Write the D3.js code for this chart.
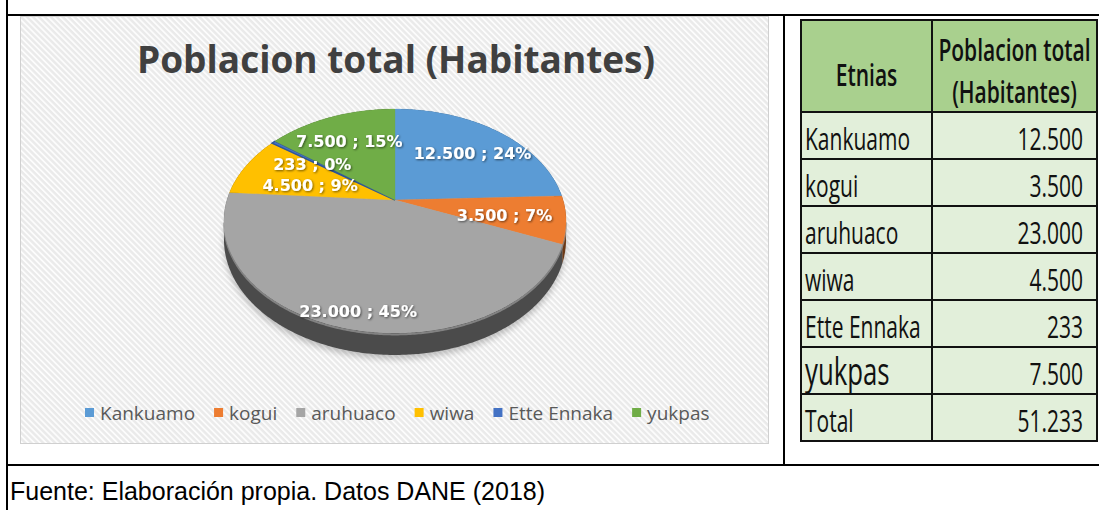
<!DOCTYPE html>
<html>
<head>
<meta charset="utf-8">
<script src="https://cdn.jsdelivr.net/npm/d3@7"></script>
<style>
  body { margin: 0; background: #fff; }
  svg { display: block; }
</style>
</head>
<body>
<svg id="fig" width="1099" height="510"></svg>
<script>
// datos
var etnias = ["Kankuamo", "kogui", "aruhuaco", "wiwa", "Ette Ennaka", "yukpas"];
var habitantes = [12500, 3500, 23000, 4500, 233, 7500];
var titulo = "Poblacion total (Habitantes)";
var encabezados = ["Etnias", "Poblacion total", "(Habitantes)"];
var filaTotal = "Total";
var fuente = "Fuente: Elaboración propia. Datos DANE (2018)";

var colores = ["#5b9bd5", "#ed7d31", "#a5a5a5", "#ffc000", "#4472c4", "#70ad47"];

var es = d3.formatLocale({ decimal: ",", thousands: ".", grouping: [3], currency: ["$", ""] });
var fmtNum = es.format(",d"),
    fmtPct = d3.format(".0%");

var total = d3.sum(habitantes);
var color = d3.scaleOrdinal().domain(etnias).range(colores);

var svg = d3.select("#fig");
var defs = svg.append("defs");

// fondo rayado del grafico
var pat = defs.append("pattern")
    .attr("id", "rayas")
    .attr("width", 4.2).attr("height", 4.2)
    .attr("patternUnits", "userSpaceOnUse")
    .attr("patternTransform", "rotate(-45)");
pat.append("rect").attr("width", 4.2).attr("height", 4.2).attr("fill", "#eaeaea");
pat.append("rect").attr("width", 1.8).attr("height", 4.2).attr("fill", "#fcfcfc");

var sombra = defs.append("filter").attr("id", "sombraTxt")
    .attr("x", "-10%").attr("y", "-30%").attr("width", "120%").attr("height", "160%");
sombra.append("feDropShadow")
    .attr("dx", 1).attr("dy", 1).attr("stdDeviation", 0.8)
    .attr("flood-color", "#000").attr("flood-opacity", 0.55);

var blur = defs.append("filter").attr("id", "blurPie")
    .attr("x", "-20%").attr("y", "-20%").attr("width", "140%").attr("height", "140%");
blur.append("feGaussianBlur").attr("stdDeviation", 3);

// marco del documento
var lineas = svg.append("g").attr("stroke", "#000").attr("stroke-width", 2);
lineas.append("line").attr("x1", 7).attr("x2", 7).attr("y1", 0).attr("y2", 510);
lineas.append("line").attr("x1", 7).attr("x2", 1099).attr("y1", 15).attr("y2", 15);
lineas.append("line").attr("x1", 784).attr("x2", 784).attr("y1", 15).attr("y2", 465);
lineas.append("line").attr("x1", 7).attr("x2", 1099).attr("y1", 465).attr("y2", 465);

// panel del grafico
var panel = { x: 20, y: 16, w: 748, h: 427 };
svg.append("rect")
    .attr("x", panel.x + 0.5).attr("y", panel.y + 0.5)
    .attr("width", panel.w).attr("height", panel.h)
    .attr("fill", "url(#rayas)")
    .attr("stroke", "#d0d0d0");

svg.append("text")
    .attr("x", 396).attr("y", 73)
    .attr("text-anchor", "middle")
    .attr("font-family", "'Open Sans', sans-serif")
    .attr("font-weight", 700)
    .attr("font-size", 37)
    .attr("fill", "#404040")
    .text(titulo);

// pastel 3D con perspectiva
var cx = 395, cy = 200, rx = 168, ry = 108, persp = 0.1875, grosor = 17.9;

function proyectar(a, k, bajo) {
    var s = k * Math.sin(a), t = -k * Math.cos(a), w = 1 - persp * t;
    return [cx + rx * s / w, cy + (ry * t + (bajo ? grosor : 0)) / w];
}
function arco(a0, a1, k, bajo) {
    var n = Math.max(2, Math.ceil((a1 - a0) / 0.01)), pts = [];
    for (var i = 0; i <= n; i++) pts.push(proyectar(a0 + (a1 - a0) * i / n, k, bajo));
    return pts;
}
var linea = d3.line();

var pie = d3.pie().sort(null).value(function (d) { return d; });
var porciones = pie(habitantes).map(function (d, i) {
    d.etnia = etnias[i];
    return d;
});

var g = svg.append("g");

// sombra suave bajo el pastel
g.append("path")
    .attr("d", linea(arco(0, 2 * Math.PI, 1, true)) + "Z")
    .attr("transform", "translate(0,4)")
    .attr("fill", "#000").attr("opacity", 0.22)
    .attr("filter", "url(#blurPie)");

// laterales
g.selectAll("path.lado")
    .data(porciones)
    .join("path")
    .attr("class", "lado")
    .attr("d", function (d) {
        var top = arco(d.startAngle, d.endAngle, 1, false),
            bot = arco(d.startAngle, d.endAngle, 1, true).reverse();
        return linea(top.concat(bot)) + "Z";
    })
    .attr("fill", function (d) { return d3.color(color(d.etnia)).darker(2.2); });

// borde claro del canto
g.append("path")
    .attr("d", linea(arco(Math.PI * 0.56, Math.PI * 1.44, 1, false)))
    .attr("transform", "translate(0,1.5)")
    .attr("fill", "none").attr("stroke", "#9a9a9a").attr("stroke-width", 2).attr("opacity", 0.7);

// caras superiores
g.selectAll("path.cara")
    .data(porciones)
    .join("path")
    .attr("class", "cara")
    .attr("d", function (d) {
        return linea([[cx, cy]].concat(arco(d.startAngle, d.endAngle, 1, false))) + "Z";
    })
    .attr("fill", function (d) { return color(d.etnia); })
    .attr("stroke", function (d) { return d.data < total * 0.01 ? "#2f5597" : color(d.etnia); })
    .attr("stroke-width", function (d) { return d.data < total * 0.01 ? 1.4 : 0.3; });

// etiquetas (desplazamientos como los ajusta Excel)
var ajuste = {
    "Kankuamo": [3, 3], "kogui": [-9, 1], "aruhuaco": [-6, 27],
    "wiwa": [21, 10], "Ette Ennaka": [5, 6], "yukpas": [1, 2]
};
g.selectAll("text.etq")
    .data(porciones)
    .join("text")
    .attr("class", "etq")
    .attr("x", function (d) { return proyectar((d.startAngle + d.endAngle) / 2, 0.7)[0] + ajuste[d.etnia][0]; })
    .attr("y", function (d) { return proyectar((d.startAngle + d.endAngle) / 2, 0.7)[1] + ajuste[d.etnia][1] + 6; })
    .attr("text-anchor", "middle")
    .attr("font-family", "'DejaVu Sans', sans-serif")
    .attr("font-weight", 700)
    .attr("font-size", 16)
    .attr("fill", "#fff")
    .attr("filter", "url(#sombraTxt)")
    .text(function (d) { return fmtNum(d.data) + " ; " + fmtPct(d.data / total); });

// leyenda
var ley = svg.append("g").attr("transform", "translate(85,420)");
var items = ley.selectAll("g")
    .data(etnias)
    .join("g");
items.append("rect")
    .attr("y", -12).attr("width", 9).attr("height", 9)
    .attr("fill", function (d) { return color(d); });
items.append("text")
    .attr("x", 15)
    .attr("font-family", "'Open Sans', sans-serif")
    .attr("font-size", 19)
    .attr("fill", "#595959")
    .text(function (d) { return d; });
var xAcum = 0;
items.each(function () {
    var el = d3.select(this);
    el.attr("transform", "translate(" + xAcum + ",0)");
    xAcum += 15 + el.select("text").node().getComputedTextLength() + 19;
});

// tabla
var filas = etnias.map(function (e, i) { return { etnia: e, valor: habitantes[i] }; });
filas.push({ etnia: filaTotal, valor: total });

var colX = [801, 932, 1097];
var filaY = d3.scaleLinear().domain([0, filas.length]).range([112, 441]);
var tabla = svg.append("g");

tabla.append("rect")
    .attr("x", colX[0]).attr("y", 20)
    .attr("width", colX[2] - colX[0]).attr("height", filaY(0) - 20)
    .attr("fill", "#a9d08e");
tabla.selectAll("rect.celda")
    .data(filas)
    .join("rect")
    .attr("class", "celda")
    .attr("x", colX[0])
    .attr("y", function (d, i) { return filaY(i); })
    .attr("width", colX[2] - colX[0])
    .attr("height", function (d, i) { return filaY(i + 1) - filaY(i); })
    .attr("fill", "#e2efda");

var bordes = tabla.append("g").attr("stroke", "#111").attr("stroke-width", 2).attr("fill", "none");
bordes.append("rect")
    .attr("x", colX[0]).attr("y", 20)
    .attr("width", colX[2] - colX[0]).attr("height", filaY(filas.length) - 20);
bordes.append("line")
    .attr("x1", colX[1]).attr("x2", colX[1])
    .attr("y1", 20).attr("y2", filaY(filas.length));
bordes.selectAll("line.h")
    .data(d3.range(filas.length))
    .join("line")
    .attr("class", "h")
    .attr("x1", colX[0]).attr("x2", colX[2])
    .attr("y1", function (i) { return filaY(i); })
    .attr("y2", function (i) { return filaY(i); });

function celda(sel, x, y, txt, anchor, size, peso) {
    sel.append("text")
        .attr("transform", "translate(" + x + "," + y + ") scale(0.955,1.4)")
        .attr("text-anchor", anchor)
        .attr("font-family", "'Open Sans', sans-serif")
        .attr("font-size", size)
        .attr("font-weight", peso || 400)
        .attr("fill", "#111")
        .text(txt);
}
celda(tabla, (colX[0] + colX[1]) / 2, 86, encabezados[0], "middle", 22, 600);
celda(tabla, (colX[1] + colX[2]) / 2, 61, encabezados[1], "middle", 22, 600);
celda(tabla, (colX[1] + colX[2]) / 2, 103, encabezados[2], "middle", 22, 600);

filas.forEach(function (d, i) {
    var base = filaY(i) + 38;
    celda(tabla, colX[0] + 4, base, d.etnia, "start", d.etnia === "yukpas" ? 27 : 22);
    celda(tabla, colX[2] - 14, base, fmtNum(d.valor), "end", 22);
});

// fuente
svg.append("text")
    .attr("x", 10).attr("y", 500)
    .attr("font-family", "'Liberation Sans', Arial, sans-serif")
    .attr("font-size", 25)
    .attr("fill", "#000")
    .text(fuente);
</script>
</body>
</html>
